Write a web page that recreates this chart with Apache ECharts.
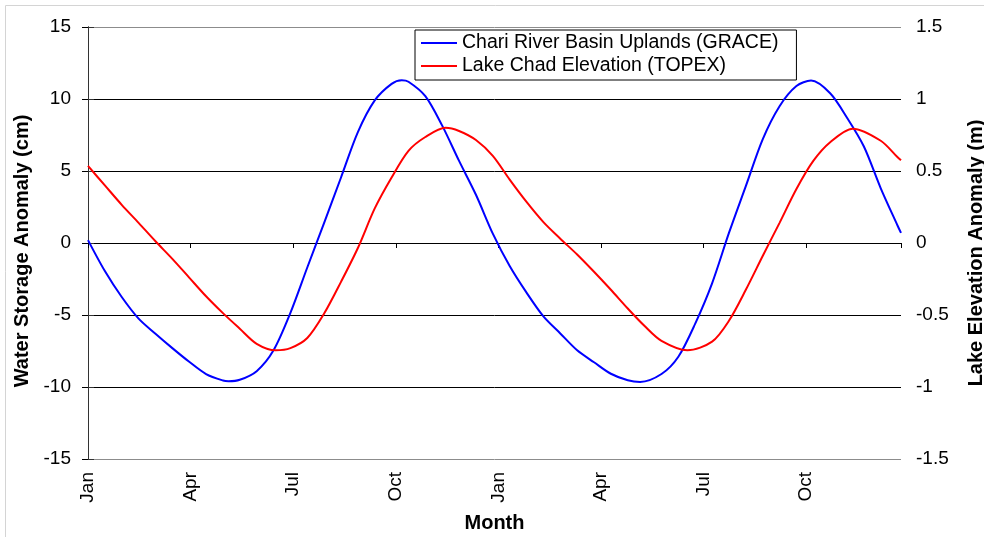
<!DOCTYPE html>
<html>
<head>
<meta charset="utf-8">
<script src="https://cdn.jsdelivr.net/npm/echarts@6/dist/echarts.min.js"></script>
<style>
  html, body { margin: 0; padding: 0; background: #fff; }
  #box { width: 984px; height: 537px; }
</style>
</head>
<body>
<div id="box"></div>
<script>
// day of the two-year series (0 = 1 Jan)
const graceDays = [0, 15, 30, 45, 60, 75, 90, 105, 120, 125, 135, 150, 165, 180, 195, 210, 225,
  240, 255, 270, 279, 285, 300, 315, 330, 345, 360, 375, 390, 405, 420, 435, 450, 465, 480,
  491, 510, 525, 540, 555, 570, 585, 600, 615, 630, 643, 660, 675, 690, 705, 720, 723];

// Chari River Basin Uplands (GRACE), cm
const grace = [0.2, -1.95, -3.75, -5.25, -6.3, -7.3, -8.25, -9.1, -9.55, -9.6, -9.5, -8.9,
  -7.45, -4.85, -1.7, 1.4, 4.55, 7.7, 9.9, 11.05, 11.3, 11.2, 10.2, 8.15, 5.7, 3.35, 0.65,
  -1.6, -3.45, -5.1, -6.28, -7.45, -8.28, -9.08, -9.53, -9.65, -9.1, -7.9, -5.6,
  -2.8, 0.7, 3.95, 7.2, 9.5, 10.9, 11.28, 10.4, 8.7, 6.7, 3.8, 1.2, 0.7];

const topexDays = [0, 15, 30, 45, 60, 75, 90, 105, 120, 135, 150, 167, 180, 195, 210, 225, 240,
  255, 270, 285, 300, 318, 330, 345, 360, 375, 390, 405, 420, 435, 450, 465, 480, 495, 510,
  533, 555, 570, 585, 600, 615, 630, 645, 660, 680, 705, 720, 723];

// Lake Chad Elevation (TOPEX), m
const topex = [0.535, 0.40, 0.265, 0.14, 0.012, -0.11, -0.24, -0.37, -0.487, -0.595, -0.70,
  -0.745, -0.73, -0.66, -0.49, -0.27, -0.035, 0.24, 0.455, 0.64, 0.736, 0.80, 0.778, 0.715, 0.605,
  0.44, 0.285, 0.145, 0.03, -0.08, -0.20, -0.325, -0.455, -0.577, -0.68,
  -0.745, -0.685, -0.54, -0.325, -0.09, 0.14, 0.375, 0.57, 0.70, 0.794, 0.71, 0.595, 0.574];

const monthLabels = ['Jan', 'Apr', 'Jul', 'Oct', 'Jan', 'Apr', 'Jul', 'Oct'];
const quarter = 91.25;

const FONT = 'Arial, "Liberation Sans", sans-serif';

const chart = echarts.init(document.getElementById('box'));

const option = {
  animation: false,
  graphic: [{
    type: 'rect',
    silent: true,
    z: -1,
    shape: { x: 5.5, y: 5.5, width: 1100, height: 700 },
    style: { fill: 'none', stroke: '#d4d4d4', lineWidth: 1 }
  }],
  grid: {
    left: 88,
    right: 83,
    top: 27,
    bottom: 78,
    containLabel: false,
    outerBoundsMode: 'none'
  },
  legend: {
    orient: 'vertical',
    left: 415,
    top: 30,
    padding: [2, 18, 3, 6],
    itemGap: 1,
    itemWidth: 36,
    itemHeight: 2,
    icon: 'rect',
    borderColor: '#000',
    borderWidth: 1,
    backgroundColor: '#fff',
    textStyle: { fontFamily: FONT, fontSize: 19.5, color: '#000', lineHeight: 22 },
    data: ['Chari River Basin Uplands (GRACE)', 'Lake Chad Elevation (TOPEX)']
  },
  xAxis: [
    {
      type: 'value',
      min: 0,
      max: 723,
      interval: quarter,
      axisLine: { onZero: true, lineStyle: { color: '#000', width: 1 } },
      axisTick: { show: true, inside: false, length: 5, lineStyle: { color: '#000' } },
      axisLabel: { show: false },
      splitLine: { show: false }
    },
    {
      type: 'value',
      position: 'bottom',
      min: 0,
      max: 723,
      interval: quarter,
      axisLine: { show: false, onZero: false },
      axisTick: { show: false },
      splitLine: { show: false },
      axisLabel: {
        rotate: 90,
        margin: 13,
        fontFamily: FONT,
        fontSize: 19,
        color: '#000',
        showMaxLabel: false,
        formatter: function (v) {
          const i = Math.round(v / quarter);
          return monthLabels[i] || '';
        }
      },
      name: 'Month',
      nameLocation: 'middle',
      nameGap: 54,
      nameTextStyle: { fontFamily: FONT, fontSize: 20, fontWeight: 'bold', color: '#000' }
    }
  ],
  yAxis: [
    {
      type: 'value',
      position: 'left',
      min: -15,
      max: 15,
      interval: 5,
      axisLine: { show: true, lineStyle: { color: '#000' } },
      axisTick: { show: true, inside: false, length: 6, lineStyle: { color: '#000' } },
      axisLabel: { margin: 17, fontFamily: FONT, fontSize: 19, color: '#000' },
      splitLine: {
        show: true,
        lineStyle: { color: ['#8c8c8c', '#000', '#000', '#000', '#000', '#000', '#8c8c8c'], width: 1 }
      },
      name: 'Water Storage Anomaly (cm)',
      nameLocation: 'middle',
      nameRotate: 90,
      nameGap: 55,
      nameTextStyle: { fontFamily: FONT, fontSize: 20, fontWeight: 'bold', color: '#000', padding: [0, 16, 0, 0] }
    },
    {
      type: 'value',
      position: 'right',
      min: -1.5,
      max: 1.5,
      interval: 0.5,
      axisLine: { show: true, lineStyle: { color: '#333' } },
      axisTick: { show: true, inside: false, length: 6, lineStyle: { color: '#333' } },
      axisLabel: { margin: 15, fontFamily: FONT, fontSize: 19, color: '#000' },
      splitLine: { show: false },
      name: 'Lake Elevation Anomaly (m)',
      nameLocation: 'middle',
      nameRotate: 90,
      nameGap: 65,
      nameTextStyle: { fontFamily: FONT, fontSize: 20, fontWeight: 'bold', color: '#000', padding: [0, 20, 0, 0] }
    }
  ],
  series: [
    {
      name: 'Chari River Basin Uplands (GRACE)',
      type: 'line',
      xAxisIndex: 0,
      yAxisIndex: 0,
      smooth: 0.3,
      showSymbol: false,
      lineStyle: { color: '#0000ff', width: 2 },
      itemStyle: { color: '#0000ff' },
      data: graceDays.map((d, i) => [d, grace[i]])
    },
    {
      name: 'Lake Chad Elevation (TOPEX)',
      type: 'line',
      xAxisIndex: 0,
      yAxisIndex: 1,
      smooth: 0.3,
      showSymbol: false,
      lineStyle: { color: '#ff0000', width: 2 },
      itemStyle: { color: '#ff0000' },
      data: topexDays.map((d, i) => [d, topex[i]])
    }
  ]
};

chart.setOption(option);
</script>
</body>
</html>
